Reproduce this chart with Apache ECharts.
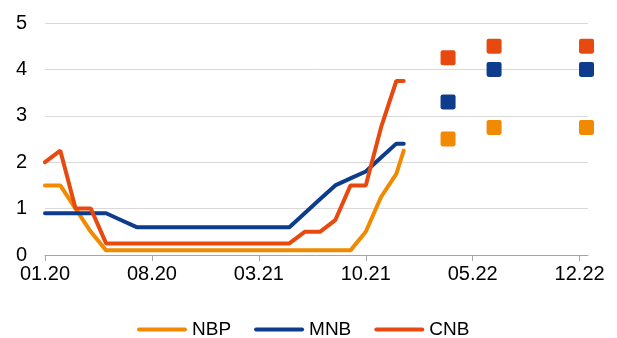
<!DOCTYPE html>
<html>
<head>
<meta charset="utf-8">
<script src="https://cdn.jsdelivr.net/npm/echarts@6/dist/echarts.min.js"></script>
<style>
  html, body { margin: 0; padding: 0; background: #fff; }
  #chart { width: 617px; height: 338px; }
</style>
</head>
<body>
<div id="chart"></div>
<script>
// Policy rates (%), month-end observations plus the last fixing in December 2021
const obsDates = [
  '2020-01', '2020-02', '2020-03', '2020-04', '2020-05', '2020-06',
  '2020-07', '2020-08', '2020-09', '2020-10', '2020-11', '2020-12',
  '2021-01', '2021-02', '2021-03', '2021-04', '2021-05', '2021-06',
  '2021-07', '2021-08', '2021-09', '2021-10', '2021-11', '2021-12',
  '2021-12-16'
];
const nbpRate = [1.5, 1.5, 1.0, 0.5, 0.1, 0.1, 0.1, 0.1, 0.1, 0.1, 0.1, 0.1,
                 0.1, 0.1, 0.1, 0.1, 0.1, 0.1, 0.1, 0.1, 0.1, 0.5, 1.25, 1.75, 2.25];
const mnbRate = [0.9, 0.9, 0.9, 0.9, 0.9, 0.75, 0.6, 0.6, 0.6, 0.6, 0.6, 0.6,
                 0.6, 0.6, 0.6, 0.6, 0.6, 0.9, 1.2, 1.5, 1.65, 1.8, 2.1, 2.4, 2.4];
const cnbRate = [2.0, 2.25, 1.0, 1.0, 0.25, 0.25, 0.25, 0.25, 0.25, 0.25, 0.25, 0.25,
                 0.25, 0.25, 0.25, 0.25, 0.25, 0.5, 0.5, 0.75, 1.5, 1.5, 2.75, 3.75, 3.75];

// Expected rates at three horizons
const expDates = ['2022-03-13', '2022-06-13', '2022-12-15'];
const nbpExp = [2.5, 2.75, 2.75];
const mnbExp = [3.3, 4.0, 4.0];
const cnbExp = [4.25, 4.5, 4.5];

// Axis
const tickLabels = ['01.20', '08.20', '03.21', '10.21', '05.22', '12.22'];
const axisEndDate = '2022-12-18';
const yTicks = [0, 1, 2, 3, 4, 5];

const names = ['NBP', 'MNB', 'CNB'];
const colors = { NBP: '#F18A00', MNB: '#0E3C8C', CNB: '#E8490F' };

// Month index counted from January 2020 (fractional within a month)
function dateToIndex(s) {
  const parts = s.split('-').map(Number);
  const y = parts[0], m = parts[1], d = parts[2] || 1;
  const dim = new Date(y, m, 0).getDate();
  return (y - 2020) * 12 + (m - 1) + (d - 1) / dim;
}
function labelToIndex(l) {
  const p = l.split('.').map(Number);
  return (p[1] - 20) * 12 + (p[0] - 1);
}
const tickPos = tickLabels.map(labelToIndex);
const labelByPos = {};
tickPos.forEach((p, i) => { labelByPos[p] = tickLabels[i]; });

function pairs(dates, vals) {
  return dates.map((d, i) => [dateToIndex(d), vals[i]]);
}

const lineVals = { NBP: nbpRate, MNB: mnbRate, CNB: cnbRate };
const expVals = { NBP: nbpExp, MNB: mnbExp, CNB: cnbExp };

const squarePath = 'path://M2,0H12A2,2 0 0 1 14,2V12A2,2 0 0 1 12,14H2A2,2 0 0 1 0,12V2A2,2 0 0 1 2,0Z';
const capsulePath = 'path://M2,0H48A2,2 0 0 1 48,4H2A2,2 0 0 1 2,0Z';

const series = [];
names.forEach(n => {
  series.push({
    name: n,
    type: 'line',
    data: pairs(obsDates, lineVals[n]),
    showSymbol: false,
    symbol: 'none',
    color: colors[n],
    lineStyle: { width: 4, color: colors[n], cap: 'round' },
    z: 2
  });
});
names.forEach(n => {
  series.push({
    name: n + ' expected',
    type: 'scatter',
    data: pairs(expDates, expVals[n]),
    symbol: squarePath,
    symbolSize: 15,
    itemStyle: { color: colors[n], opacity: 1 },
    z: 3
  });
});

const chart = echarts.init(document.getElementById('chart'), null, { renderer: 'canvas' });
chart.setOption({
  animation: false,
  backgroundColor: '#ffffff',
  textStyle: { fontFamily: 'Liberation Sans, Arial, sans-serif' },
  grid: { left: 45, right: 29, top: 23, bottom: 83, containLabel: false },
  xAxis: {
    type: 'value',
    min: 0,
    max: dateToIndex(axisEndDate),
    interval: 7,
    splitLine: { show: false },
    axisLine: { show: true, lineStyle: { color: '#A6A6A6', width: 1 } },
    axisTick: { show: true, length: 6, customValues: tickPos, lineStyle: { color: '#A6A6A6' } },
    axisLabel: {
      customValues: tickPos,
      formatter: v => labelByPos[Math.round(v)] || '',
      color: '#000',
      fontSize: 20,
      margin: 9
    }
  },
  yAxis: {
    type: 'value',
    min: yTicks[0],
    max: yTicks[yTicks.length - 1],
    interval: 1,
    axisLine: { show: false },
    axisTick: { show: false },
    axisLabel: { color: '#000', fontSize: 20, margin: 18 },
    splitLine: { show: true, lineStyle: { color: '#D9D9D9', width: 1 } }
  },
  legend: {
    data: names,
    left: 137,
    top: 320,
    padding: 0,
    icon: capsulePath,
    itemWidth: 50,
    itemHeight: 4,
    itemGap: 23,
    textStyle: { color: '#000', fontSize: 19 }
  },
  series: series
});
</script>
</body>
</html>
